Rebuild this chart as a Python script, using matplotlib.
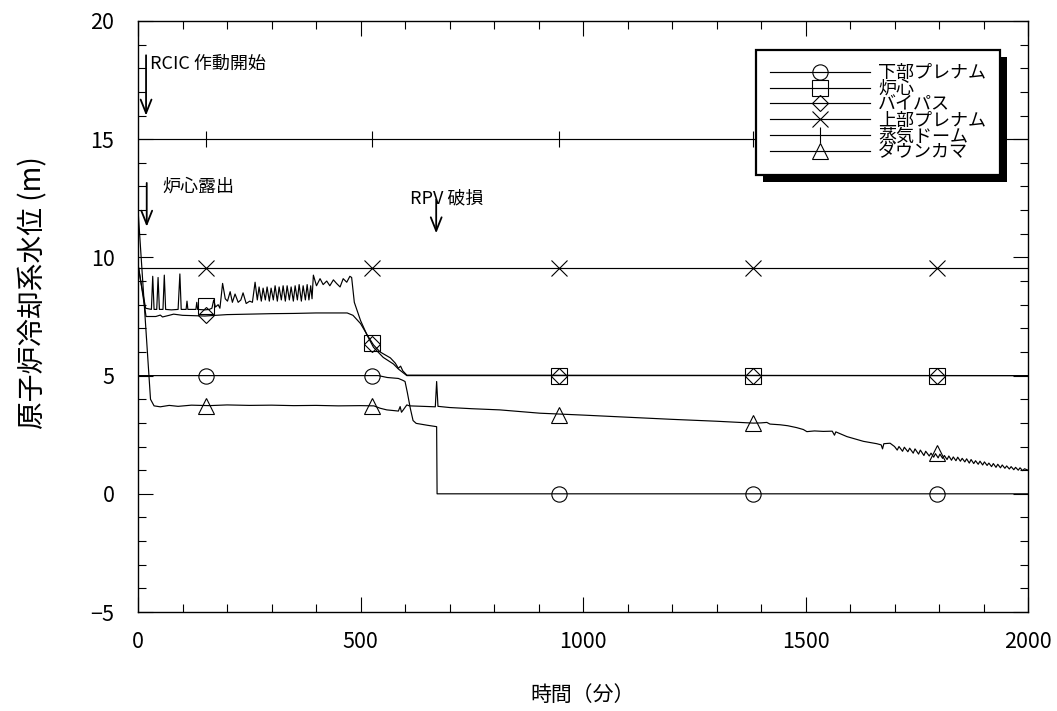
import matplotlib
matplotlib.use('Agg')
import matplotlib.pyplot as plt
from matplotlib.ticker import MultipleLocator
from matplotlib import patheffects

plt.rcParams['font.family'] = ['Noto Sans CJK JP', 'DejaVu Sans']

# ==== データ（時間: 分, 水位: m） ====
labels = ['下部プレナム', '炉心', 'バイパス', '上部プレナム', '蒸気ドーム', 'ダウンカマ']
markers = ['o', 's', 'D', 'x', '|', '^']
marker_sizes = [11, 11, 7.8, 11, 12, 11]

mark_t = [153, 526, 946, 1382, 1796]

# 下部プレナム
t_lower = [0, 540, 560, 585, 595, 600, 605, 612, 618, 625, 650, 671, 672, 2000]
y_lower = [5.0, 5.0, 4.92, 4.88, 4.8, 4.75, 4.3, 3.6, 3.1, 2.98, 2.9, 2.84, 0.0, 0.0]
m_lower = [5.0, 5.0, 0.0, 0.0, 0.0]

# 炉心
t_core = [0, 6, 17, 30, 33, 36, 42, 45, 48, 56, 59, 62, 75, 90, 94, 97, 108, 110, 112,
          130, 132, 134, 150, 160, 166, 170, 174, 180, 184, 190, 196, 201, 207, 212, 218,
          225, 231, 236, 243, 251, 257, 263, 268, 272, 277, 281, 286, 290, 295, 299, 304,
          308, 313, 317, 322, 326, 331, 335, 340, 344, 349, 353, 358, 362, 367, 371, 376,
          380, 384, 388, 391, 394, 401, 409, 416, 424, 431, 439, 446, 454, 461, 469, 476,
          480, 486, 500, 515, 529, 551, 574, 585, 604, 2000]
y_core = [9.7, 9.0, 7.85, 7.8, 9.2, 7.8, 7.8, 9.15, 7.8, 7.8, 9.25, 7.8, 7.78, 7.8, 9.3, 7.8, 7.8, 8.15, 7.8,
          7.8, 8.1, 7.8, 7.78, 7.8, 7.85, 8.2, 7.9, 8.0, 7.85, 8.9, 8.25, 8.15, 8.55, 8.1, 8.45,
          8.1, 8.2, 8.5, 8.05, 8.15, 8.1, 8.95, 8.2, 8.75, 8.15, 8.7, 8.2, 8.75, 8.15, 8.7, 8.2,
          8.8, 8.15, 8.75, 8.2, 8.8, 8.15, 8.8, 8.2, 8.75, 8.15, 8.8, 8.2, 8.85, 8.15, 8.8, 8.2,
          8.85, 8.2, 8.8, 8.25, 9.25, 8.8, 9.1, 8.85, 9.0, 8.8, 9.05, 8.9, 8.75, 9.1, 8.95, 9.2,
          9.15, 8.1, 7.33, 6.7, 6.2, 5.77, 5.49, 5.28, 5.0, 5.0]
m_core = [7.95, 6.4, 5.0, 5.0, 5.0]

# バイパス
t_bypass = [0, 6, 18, 40, 50, 55, 70, 80, 100, 150, 200, 250, 300, 350, 400, 470, 483,
            500, 515, 529, 544, 567, 578, 585, 590, 595, 604, 2000]
y_bypass = [9.7, 9.0, 7.5, 7.5, 7.56, 7.48, 7.55, 7.6, 7.55, 7.52, 7.58, 7.6, 7.62, 7.63, 7.65, 7.65, 7.55,
            7.2, 6.72, 6.3, 6.0, 5.75, 5.53, 5.31, 5.4, 5.2, 5.02, 5.0]
m_bypass = [7.55, 6.35, 5.0, 5.0, 5.0]

# 上部プレナム
t_upper = [0, 2000]
y_upper = [9.55, 9.55]
m_upper = [9.55, 9.55, 9.55, 9.55, 9.55]

# 蒸気ドーム
t_dome = [0, 2000]
y_dome = [15.0, 15.0]
m_dome = [15.0, 15.0, 15.0, 15.0, 15.0]

# ダウンカマ
t_dc = [0, 28, 36, 50, 70, 90, 120, 160, 200, 250, 300, 350, 400, 450, 500, 530, 544, 559,
        575, 585, 589, 592, 596, 604, 610, 640, 668, 671, 674, 700, 750, 813, 903, 1000,
        1100, 1200, 1300, 1383, 1400, 1413, 1420, 1443, 1460, 1480, 1495, 1503, 1520, 1540,
        1560, 1565, 1568, 1593, 1630, 1660, 1670, 1673, 1676, 1690,
        1700, 1706, 1710, 1718, 1722, 1730, 1734, 1742, 1746, 1754, 1758, 1766, 1770, 1778,
        1782, 1788, 1792, 1798, 1802, 1808, 1812, 1818, 1822, 1828, 1832, 1838, 1842, 1848,
        1852, 1858, 1862, 1868, 1872, 1878, 1882, 1888, 1892, 1898, 1902, 1908, 1912, 1918,
        1922, 1928, 1932, 1938, 1942, 1948, 1952, 1958, 1962, 1968, 1972, 1978, 1982, 1988,
        1992, 2000]
y_dc = [12.0, 4.0, 3.72, 3.68, 3.74, 3.7, 3.75, 3.73, 3.76, 3.74, 3.75, 3.73, 3.74, 3.72, 3.73, 3.72, 3.62, 3.55,
        3.52, 3.5, 3.69, 3.45, 3.55, 3.76, 3.72, 3.7, 3.68, 4.75, 3.7, 3.65, 3.6, 3.55, 3.41, 3.33,
        3.24, 3.15, 3.07, 2.99, 3.0, 3.02, 2.95, 2.92, 2.88, 2.8, 2.72, 2.63, 2.66, 2.64,
        2.65, 2.48, 2.62, 2.42, 2.22, 2.12, 2.07, 1.9, 2.12, 2.14,
        2.0, 1.85, 2.0, 1.8, 1.97, 1.78, 1.93, 1.72, 1.9, 1.68, 1.85, 1.62, 1.8, 1.6,
        1.72, 1.55, 1.7, 1.52, 1.68, 1.5, 1.62, 1.45, 1.6, 1.42, 1.56, 1.4, 1.55, 1.38,
        1.5, 1.35, 1.48, 1.3, 1.45, 1.28, 1.4, 1.25, 1.38, 1.22, 1.35, 1.2, 1.3, 1.15,
        1.28, 1.12, 1.25, 1.1, 1.22, 1.08, 1.18, 1.05, 1.15, 1.02, 1.12, 1.0, 1.1, 0.98,
        1.06, 1.0]
m_dc = [3.72, 3.72, 3.35, 2.99, 1.72]

series_t = [t_lower, t_core, t_bypass, t_upper, t_dome, t_dc]
series_y = [y_lower, y_core, y_bypass, y_upper, y_dome, y_dc]
series_m = [m_lower, m_core, m_bypass, m_upper, m_dome, m_dc]

# ==== 描画 ====
fig = plt.figure(figsize=(10.57, 7.11), dpi=100)
ax = fig.add_axes([0.1306, 0.1392, 0.842, 0.8313])

handles = []
for t, y, m, mk, ms in zip(series_t, series_y, series_m, markers, marker_sizes):
    line, = ax.plot(t, y, color='black', lw=0.85)
    pts, = ax.plot(mark_t, m, ls='none', marker=mk, ms=ms, mfc='none', mec='black', mew=0.8)
    handles.append((line, pts))

ax.set_xlim(0, 2000)
ax.set_ylim(-5, 20)
ax.xaxis.set_major_locator(MultipleLocator(500))
ax.xaxis.set_minor_locator(MultipleLocator(100))
ax.yaxis.set_major_locator(MultipleLocator(5))
ax.yaxis.set_minor_locator(MultipleLocator(1))
ax.tick_params(which='both', direction='in', top=True, right=True, width=0.8, colors='black')
ax.tick_params(which='major', length=11, labelsize=15.5)
ax.tick_params(axis='y', which='major', pad=17)
ax.tick_params(axis='x', which='major', pad=14)
ax.tick_params(which='minor', length=5.5)
for s in ax.spines.values():
    s.set_linewidth(1.0)

ax.set_xlabel('時間（分）', fontsize=15)
ax.xaxis.set_label_coords(0.5, -0.14)
ax.xaxis.label.set_va('center')
ax.set_ylabel('原子炉冷却系水位 (m)', fontsize=20)
ax.yaxis.set_label_coords(-0.118, 0.541)
ax.yaxis.label.set_va('center')

# ==== 注記 ====
arrow_kw = dict(arrowstyle='->,head_length=0.75,head_width=0.3', mutation_scale=13,
                lw=1.3, color='black', shrinkA=0, shrinkB=0)
ax.annotate('', xy=(18, 16.0), xytext=(18, 18.55), arrowprops=arrow_kw)
ax.text(27, 18.2, 'RCIC 作動開始', fontsize=13, va='center', ha='left')
ax.annotate('', xy=(19.5, 11.3), xytext=(19.5, 13.15), arrowprops=arrow_kw)
ax.text(54, 13.0, '炉心露出', fontsize=13, va='center', ha='left')
ax.annotate('', xy=(670, 11.02), xytext=(670, 12.45), arrowprops=arrow_kw)
ax.text(611, 12.5, 'RPV 破損', fontsize=13, va='center', ha='left')

# ==== 凡例 ====
leg = ax.legend(handles, labels, loc='upper right', bbox_to_anchor=(0.9685, 0.951),
                borderaxespad=0, fontsize=13, handlelength=5.5, handletextpad=0.45,
                labelspacing=-0.12, borderpad=0.78, fancybox=False, edgecolor='black',
                framealpha=1)
frame = leg.get_frame()
frame.set_linewidth(1.6)
frame.set_path_effects([patheffects.SimplePatchShadow(offset=(5, -5), shadow_rgbFace='black', alpha=1.0),
                        patheffects.Normal()])

fig.savefig('out.png', dpi=100)
